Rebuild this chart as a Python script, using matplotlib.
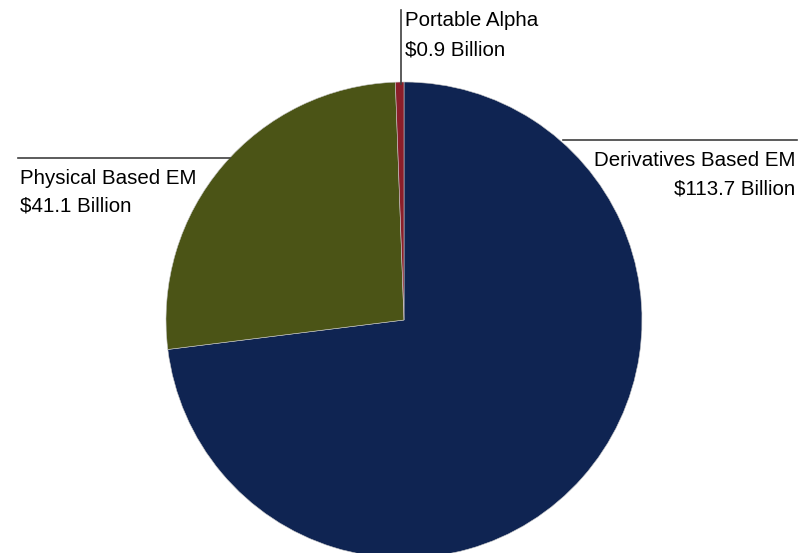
import matplotlib
matplotlib.use("Agg")
import matplotlib.pyplot as plt
from matplotlib import font_manager

labels = ["Derivatives Based EM", "Physical Based EM", "Portable Alpha"]
values = [113.7, 41.1, 0.9]
colors = ["#0f2452", "#4b5416", "#8b1e2a"]

names = {f.name for f in font_manager.fontManager.ttflist}
fam = ["Liberation Sans Narrow", "Liberation Sans", "DejaVu Sans"]
fam = [f for f in fam if f in names] or ["DejaVu Sans"]
plt.rcParams['font.family'] = fam

W, H = 811, 553
fig = plt.figure(figsize=(W / 100, H / 100), dpi=100)
ax = fig.add_axes([0, 0, 1, 1])

cx, cy, r = 404, H - 320, 238
ax.pie(values, colors=colors, startangle=90, counterclock=False,
       center=(cx, cy), radius=r,
       wedgeprops=dict(edgecolor="#c8c8c8", linewidth=0.4))
ax.set_xlim(0, W)
ax.set_ylim(0, H)
ax.set_aspect("equal")
ax.axis("off")


def py(y):
    return H - y


lc = "#404040"
fs = 14.8
# Portable Alpha
ax.plot([401, 401], [py(84), py(10)], color=lc, lw=1.2)
ax.text(405, py(21), labels[2], fontsize=fs, va="center", ha="left")
ax.text(405, py(50), "$%.1f Billion" % values[2], fontsize=fs, va="center", ha="left")
# Derivatives
ax.plot([563, 797], [py(140), py(140)], color=lc, lw=1.2)
ax.text(795, py(161), labels[0], fontsize=fs, va="center", ha="right")
ax.text(795, py(189), "$%.1f Billion" % values[0], fontsize=fs, va="center", ha="right")
# Physical
ax.plot([18, 230], [py(158), py(158)], color=lc, lw=1.2)
ax.text(20, py(178), labels[1], fontsize=fs, va="center", ha="left")
ax.text(20, py(206), "$%.1f Billion" % values[1], fontsize=fs, va="center", ha="left")

fig.savefig("out.png", dpi=100)
